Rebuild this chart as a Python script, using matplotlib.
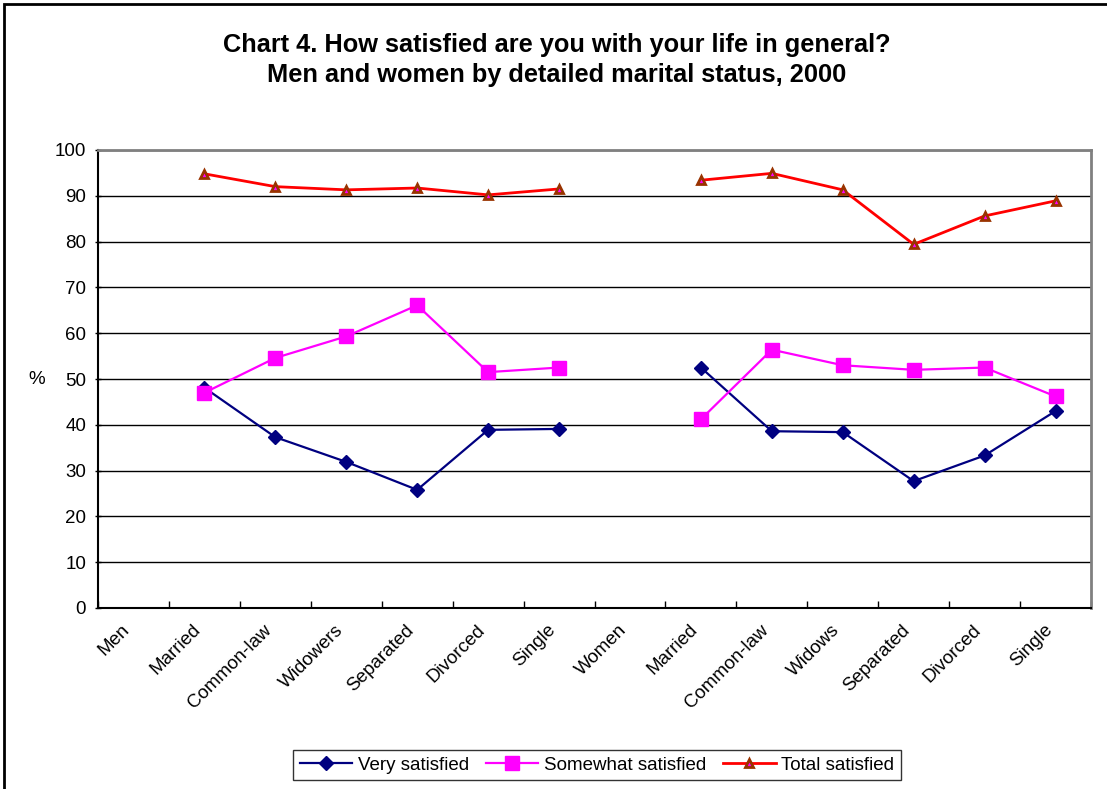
import numpy as np
import matplotlib
matplotlib.use("Agg")
from matplotlib import pyplot as plt
from matplotlib.patches import Rectangle
from matplotlib.transforms import ScaledTranslation

plt.rcParams['font.family'] = ['Liberation Sans', 'DejaVu Sans']

categories = ["Men", "Married", "Common-law", "Widowers", "Separated", "Divorced", "Single",
              "Women", "Married", "Common-law", "Widows", "Separated", "Divorced", "Single"]
nan = np.nan
very = [nan, 48.1, 37.3, 31.9, 25.8, 38.9, 39.1,
        nan, 52.5, 38.6, 38.4, 27.7, 33.3, 43.0]
somewhat = [nan, 47.0, 54.6, 59.3, 66.1, 51.5, 52.5,
            nan, 41.2, 56.4, 53.0, 52.0, 52.5, 46.2]
total = [nan, 94.8, 92.0, 91.3, 91.7, 90.2, 91.5,
         nan, 93.4, 94.9, 91.3, 79.4, 85.6, 88.9]

W, H = 1107, 789
fig = plt.figure(figsize=(W / 100, H / 100), dpi=100)
ax = fig.add_axes([98 / W, 1 - 608 / H, (1091 - 98) / W, (608 - 150) / H])

x = np.arange(len(categories))
ax.plot(x, very, color="#000080", lw=1.6, marker="D", ms=7, label="Very satisfied")
ax.plot(x, somewhat, color="#ff00ff", lw=1.6, marker="s", ms=10, label="Somewhat satisfied")
ax.plot(x, total, color="#ff0000", lw=2, marker="^", ms=6, mfc="#ff00ff",
        mec="#993300", mew=2, label="Total satisfied")

ax.set_xlim(-0.5, len(categories) - 0.5)
ax.set_ylim(0, 100)
ax.set_yticks(range(0, 101, 10))
ax.yaxis.grid(True, color="black", lw=1)
ax.set_axisbelow(True)

ax.set_xticks(np.arange(len(categories) + 1) - 0.5)
ax.set_xticklabels([])
ax.set_xticks(x, minor=True)
ax.set_xticklabels(categories, minor=True, rotation=45, ha="right", va="center",
                   rotation_mode="anchor", fontsize=13.5)
ax.tick_params(axis="x", which="minor", length=0, pad=14)
ax.tick_params(axis="x", which="major", length=5, direction="in", width=1)
ax.tick_params(axis="y", length=5, direction="inout", width=1, labelsize=13.5, pad=6)
# nudge the slanted labels a little to the left of their category centres
for lbl in ax.get_xticklabels(minor=True):
    lbl.set_transform(lbl.get_transform() + ScaledTranslation(-0.06, 0, fig.dpi_scale_trans))

for side in ["top", "right"]:
    ax.spines[side].set_color("#808080")
    ax.spines[side].set_linewidth(2)
ax.spines["left"].set_linewidth(1.5)
ax.spines["bottom"].set_linewidth(1.5)

fig.text(37 / W, 1 - 380 / H, "%", fontsize=13.5, ha="center", va="center")

fig.text(557 / W, 1 - 45 / H, "Chart 4. How satisfied are you with your life in general?",
         fontsize=18.3, fontweight="bold", ha="center", va="center")
fig.text(557 / W, 1 - 75 / H, "Men and women by detailed marital status, 2000",
         fontsize=18.3, fontweight="bold", ha="center", va="center")

leg = fig.legend(loc="center", bbox_to_anchor=(597 / W, 1 - 765 / H), ncol=3,
                 fontsize=13.5, frameon=True, fancybox=False, handlelength=2.8,
                 columnspacing=0.9, handletextpad=0.3, borderpad=0.35)
leg.get_frame().set_edgecolor("black")
leg.get_frame().set_linewidth(1)

fig.patches.append(Rectangle((4 / W, -0.01), 1.1, 1 - 4 / H + 0.01, transform=fig.transFigure,
                             fill=False, edgecolor="black", lw=2))

fig.savefig("out.png", dpi=100)
